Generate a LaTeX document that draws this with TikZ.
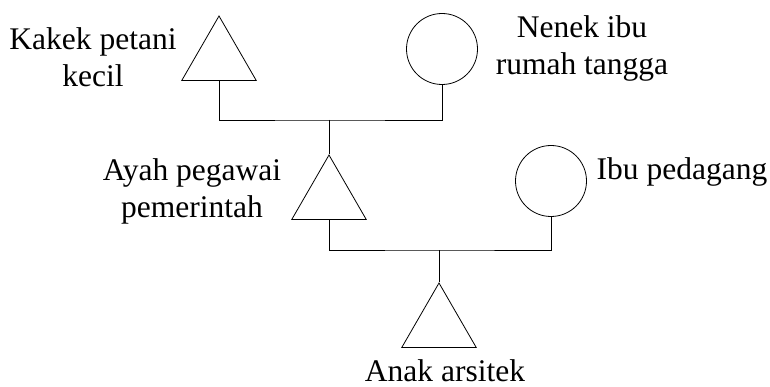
\documentclass[tikz,border=0pt]{standalone}
\usepackage{fontspec}
\setmainfont{Liberation Serif}
\usetikzlibrary{shapes.geometric}

\begin{document}
\begin{tikzpicture}[x=1pt,y=-1pt,line width=0.8pt,
  pria/.style={draw,regular polygon,regular polygon sides=3,minimum size=86pt,inner sep=0pt},
  wanita/.style={draw,circle,minimum size=71pt,inner sep=0pt},
  ket/.style={align=center,font=\fontsize{31.5}{37.5}\selectfont,inner sep=0pt,anchor=base}]
\useasboundingbox (0,0) rectangle (770,387);
% generasi pertama
\node [pria] (kakek) at (219,59) {};
\node [wanita] (nenek) at (442,49) {};
\node [ket] (tkakek) at (93,87) {Kakek petani\\kecil};
\node [ket] (tnenek) at (582,75) {Nenek ibu\\rumah tangga};
% generasi kedua
\node [pria] (ayah) at (329,198) {};
\node [wanita] (ibu) at (551,181) {};
\node [ket] (tayah) at (192,218) {Ayah pegawai\\pemerintah};
\node [ket] (tibu) at (682,180) {Ibu pedagang};
% generasi ketiga
\node [pria] (anak) at (439,326) {};
\node [ket] (tanak) at (445,381) {Anak arsitek};
% garis keturunan
\coordinate (k1) at (329,120);
\coordinate (k2) at (439,250);
\draw (kakek.south) |- (k1) -| (nenek.south);
\draw (k1) -- (ayah.north);
\draw (ayah.south) |- (k2) -| (ibu.south);
\draw (k2) -- (anak.north);
\end{tikzpicture}
\end{document}
